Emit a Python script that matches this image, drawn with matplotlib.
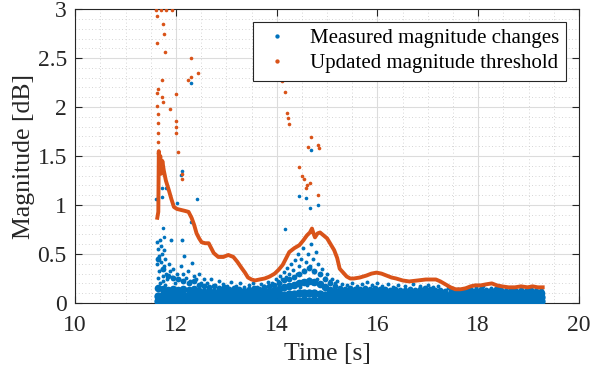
import matplotlib
matplotlib.use('Agg')
import matplotlib.pyplot as plt
from matplotlib.ticker import MultipleLocator

plt.rcParams['font.family'] = ['Liberation Serif', 'DejaVu Serif']
plt.rcParams['mathtext.fontset'] = 'stix'

BLUE = '#0072BD'
ORANGE = '#D95319'

# measured magnitude changes: dense band (three bottom rows + upper envelope) on a 0.1 s grid
band_t = [11.65, 11.75, 11.85, 11.95, 12.05, 12.15, 12.25, 12.35, 12.45, 12.55,
          12.65, 12.75, 12.85, 12.95, 13.05, 13.15, 13.25, 13.35, 13.45, 13.55,
          13.65, 13.75, 13.85, 13.95, 14.05, 14.15, 14.25, 14.35, 14.45, 14.55,
          14.65, 14.75, 14.85, 14.95, 15.05, 15.15, 15.25, 15.35, 15.45, 15.55,
          15.65, 15.75, 15.85, 15.95, 16.05, 16.15, 16.25, 16.35, 16.45, 16.55,
          16.65, 16.75, 16.85, 16.95, 17.05, 17.15, 17.25, 17.35, 17.45, 17.55,
          17.65, 17.75, 17.85, 17.95, 18.05, 18.15, 18.25, 18.35, 18.45, 18.55,
          18.65, 18.75, 18.85, 18.95, 19.05, 19.15, 19.25]
band_lo = [0.02, 0.03, 0.02, 0.03, 0.02, 0.03, 0.02, 0.03, 0.02, 0.03,
           0.02, 0.03, 0.02, 0.03, 0.02, 0.03, 0.02, 0.03, 0.02, 0.03,
           0.02, 0.03, 0.02, 0.03, 0.02, 0.03, 0.02, 0.03, 0.02, 0.03,
           0.02, 0.03, 0.02, 0.03, 0.02, 0.03, 0.02, 0.03, 0.02, 0.03,
           0.02, 0.03, 0.02, 0.03, 0.02, 0.03, 0.02, 0.03, 0.02, 0.03,
           0.02, 0.03, 0.02, 0.03, 0.02, 0.03, 0.02, 0.03, 0.02, 0.03,
           0.02, 0.03, 0.02, 0.03, 0.02, 0.03, 0.02, 0.03, 0.02, 0.03,
           0.02, 0.03, 0.02, 0.03, 0.02, 0.03, 0.02]
band_mid = [0.07, 0.08, 0.07, 0.08, 0.07, 0.08, 0.07, 0.08, 0.07, 0.08,
            0.07, 0.08, 0.07, 0.08, 0.07, 0.08, 0.07, 0.08, 0.07, 0.08,
            0.07, 0.08, 0.07, 0.08, 0.08, 0.08, 0.09, 0.09, 0.1, 0.1,
            0.1, 0.1, 0.09, 0.08, 0.08, 0.07, 0.08, 0.07, 0.08, 0.07,
            0.08, 0.07, 0.08, 0.07, 0.08, 0.07, 0.08, 0.07, 0.08, 0.07,
            0.08, 0.07, 0.08, 0.07, 0.07, 0.06, 0.07, 0.06, 0.07, 0.06,
            0.07, 0.06, 0.07, 0.06, 0.07, 0.06, 0.07, 0.06, 0.07, 0.06,
            0.07, 0.06, 0.07, 0.06, 0.07, 0.06, 0.06]
band_up = [0.15, 0.14, 0.13, 0.14, 0.13, 0.14, 0.13, 0.14, 0.12,
           0.11, 0.12, 0.11, 0.11, 0.12, 0.11, 0.11, 0.11, 0.11, 0.11,
           0.11, 0.11, 0.12, 0.12, 0.13,
           0.14, 0.16, 0.17, 0.18, 0.2, 0.21, 0.22, 0.21, 0.19, 0.16,
           0.13, 0.12, 0.11, 0.11, 0.11, 0.11, 0.11, 0.11, 0.11, 0.11,
           0.11, 0.11, 0.11, 0.11, 0.11, 0.11, 0.11, 0.11, 0.11, 0.11,
           0.1, 0.1, 0.1, 0.09, 0.09, 0.09, 0.1, 0.1, 0.1, 0.1,
           0.1, 0.1, 0.1, 0.1, 0.1, 0.1, 0.1, 0.1, 0.1, 0.1,
           0.1, 0.1, 0.1]
band_hi = [0.45, 0.35, 0.28, 0.26, 0.24, 0.22, 0.2, 0.22, 0.18, 0.17,
           0.16, 0.17, 0.15, 0.16, 0.14, 0.15, 0.14, 0.13, 0.14, 0.15,
           0.14, 0.16, 0.17, 0.18, 0.2, 0.23, 0.25, 0.27, 0.3, 0.33,
           0.36, 0.33, 0.3, 0.24, 0.2, 0.17, 0.15, 0.14, 0.15, 0.14,
           0.14, 0.15, 0.14, 0.15, 0.14, 0.14, 0.13, 0.14, 0.13, 0.13,
           0.14, 0.13, 0.14, 0.15, 0.14, 0.13, 0.13, 0.12, 0.12, 0.11,
           0.12, 0.12, 0.13, 0.13, 0.14, 0.13, 0.13, 0.14, 0.13, 0.12,
           0.13, 0.12, 0.13, 0.12, 0.13, 0.12, 0.12]

# measured magnitude changes: scattered spikes above the band
spike_t = [11.63, 11.64, 11.66, 11.63, 11.67, 11.65, 11.68, 11.70, 11.72, 11.71,
           11.73, 11.69, 11.75, 11.74, 11.66, 11.78, 11.77, 11.80, 11.82, 11.79,
           11.76, 11.90, 11.86, 11.88, 11.92, 11.95, 11.98, 12.02, 12.06, 12.10,
           12.12, 12.14, 12.16, 12.20, 12.24, 12.28, 12.31, 12.35, 12.40, 12.46,
           12.50, 12.55, 12.62, 12.70, 12.78, 12.86, 12.94, 13.02, 13.10, 13.20,
           13.28, 13.36, 13.45, 13.52, 13.60, 13.68, 13.75, 13.82, 13.90, 13.98,
           14.02, 14.06, 14.10, 14.14, 14.18, 14.20, 14.24, 14.28, 14.30, 14.32,
           14.36, 14.38, 14.40, 14.42, 14.44, 14.46, 14.48, 14.50, 14.52, 14.55,
           14.58, 14.60, 14.62, 14.64, 14.66, 14.68, 14.70, 14.72, 14.75, 14.78,
           14.80, 14.82, 14.85, 14.88, 14.90, 14.95, 15.00, 15.05, 15.10, 15.15,
           15.20, 15.30, 15.40, 15.50, 15.60, 15.70, 15.80, 15.90, 16.00, 16.10,
           16.20, 16.30, 16.40, 16.55, 16.70, 16.85, 17.00, 17.10, 17.20, 17.40,
           17.60, 17.80, 17.95, 18.10, 18.25, 18.40, 18.55, 18.70, 18.85, 19.00,
           19.15, 19.25]
spike_v = [0.62, 0.55, 0.48, 0.40, 0.33, 0.26, 0.20, 0.58, 0.50, 0.42,
           0.35, 0.64, 0.28, 0.22, 0.16, 0.45, 0.38, 0.30, 0.24, 0.18,
           0.54, 0.64, 0.40, 0.33, 0.27, 0.35, 0.20, 0.30, 0.24, 0.38,
           0.64, 0.30, 0.48, 0.26, 0.33, 0.22, 0.41, 0.28, 0.24, 0.30,
           0.20, 0.25, 0.20, 0.24, 0.18, 0.22, 0.19, 0.17, 0.21, 0.17,
           0.20, 0.16, 0.18, 0.20, 0.16, 0.19, 0.17, 0.21, 0.20, 0.24,
           0.22, 0.28, 0.25, 0.32, 0.27, 0.36, 0.30, 0.40, 0.18, 0.34,
           0.44, 0.20, 0.30, 0.50, 0.38, 0.16, 0.45, 0.22, 0.56, 0.34,
           0.42, 0.18, 0.50, 0.25, 0.38, 0.60, 0.20, 0.45, 0.32, 0.52,
           0.24, 0.40, 0.30, 0.20, 0.35, 0.26, 0.30, 0.22, 0.25, 0.20,
           0.22, 0.19, 0.18, 0.20, 0.17, 0.19, 0.21, 0.18, 0.20, 0.17,
           0.19, 0.16, 0.18, 0.17, 0.19, 0.17, 0.18, 0.16, 0.17, 0.15,
           0.14, 0.15, 0.16, 0.17, 0.15, 0.16, 0.14, 0.15, 0.14, 0.15,
           0.14, 0.13]

# measured magnitude changes: isolated large values
big_t = [12.29, 12.12, 12.10, 11.61, 11.73, 11.80, 11.73, 12.41, 12.02, 11.75,
         11.76, 12.29, 14.69, 14.45, 14.59, 14.67, 14.82, 14.16]
big_v = [2.25, 1.35, 1.31, 1.06, 1.17, 1.17, 1.08, 1.06, 1.02, 0.77,
         0.67, 0.83, 1.56, 1.09, 1.07, 0.97, 1.00, 0.76]

# updated magnitude threshold (main track)
thr_t = [11.63, 11.65, 11.66, 11.67, 11.69, 11.71, 11.73, 11.76, 11.80, 11.86,
         11.91, 11.96, 12.02, 12.10, 12.18, 12.25, 12.31, 12.36, 12.41, 12.46,
         12.51, 12.58, 12.65, 12.70, 12.75, 12.84, 12.94, 13.04, 13.14, 13.22,
         13.30, 13.37, 13.43, 13.50, 13.57, 13.66, 13.76, 13.86, 13.96, 14.04,
         14.12, 14.19, 14.25, 14.35, 14.45, 14.53, 14.60, 14.66, 14.70, 14.73,
         14.76, 14.81, 14.86, 14.93, 15.00, 15.07, 15.14, 15.20, 15.25, 15.32,
         15.39, 15.46, 15.53, 15.65, 15.78, 15.88, 15.98, 16.08, 16.18, 16.28,
         16.37, 16.50, 16.63, 16.80, 16.96, 17.06, 17.16, 17.25, 17.35, 17.45,
         17.55, 17.65, 17.75, 17.85, 17.94, 18.05, 18.15, 18.27, 18.37, 18.47,
         18.60, 18.73, 18.85, 18.98, 19.08, 19.18, 19.28]
thr_v = [0.87, 0.93, 1.55, 1.42, 1.50, 1.32, 1.45, 1.35, 1.25, 1.15,
         1.06, 0.98, 0.96, 0.95, 0.94, 0.93, 0.87, 0.80, 0.71, 0.66,
         0.62, 0.61, 0.61, 0.56, 0.51, 0.47, 0.47, 0.49, 0.47, 0.42,
         0.36, 0.31, 0.26, 0.24, 0.23, 0.24, 0.25, 0.27, 0.30, 0.34,
         0.39, 0.46, 0.52, 0.56, 0.59, 0.64, 0.69, 0.72, 0.76, 0.71,
         0.67, 0.71, 0.72, 0.69, 0.66, 0.60, 0.54, 0.46, 0.35, 0.31,
         0.27, 0.25, 0.25, 0.26, 0.28, 0.30, 0.31, 0.30, 0.28, 0.26,
         0.25, 0.23, 0.22, 0.23, 0.24, 0.24, 0.24, 0.22, 0.19, 0.16,
         0.14, 0.14, 0.15, 0.17, 0.18, 0.18, 0.19, 0.20, 0.18, 0.17,
         0.16, 0.16, 0.17, 0.16, 0.17, 0.16, 0.16]

# updated magnitude threshold (scattered early values)
thr_out_t = [11.60, 11.70, 11.80, 11.92, 11.63, 11.75, 11.76, 11.63, 11.78, 12.29,
             12.43, 12.30, 12.24, 11.73, 11.65, 11.63, 11.73, 11.74, 11.63, 11.88,
             12.00, 11.65, 12.00, 12.00, 12.00, 11.65, 11.65, 11.65, 11.65, 12.04,
             12.12, 12.12, 14.10, 14.16, 14.20, 14.22, 14.25, 14.69, 14.63, 14.82,
             14.83, 14.45, 14.51, 14.55, 14.61, 14.67, 14.59, 14.82]
thr_out_v = [2.99, 2.99, 2.99, 2.99, 2.93, 2.85, 2.75, 2.65, 2.56, 2.50,
             2.35, 2.31, 2.28, 2.28, 2.18, 2.14, 2.10, 2.05, 2.01, 1.98,
             2.13, 1.93, 1.86, 1.80, 1.74, 1.84, 1.74, 1.64, 1.53, 1.54,
             1.32, 1.27, 2.27, 2.15, 1.94, 1.89, 1.83, 1.69, 1.59, 1.61,
             1.58, 1.39, 1.30, 1.27, 1.20, 1.22, 1.17, 1.10]

fig = plt.figure(figsize=(5.92, 3.72), dpi=100)
ax = fig.add_axes([0.127, 0.1855, 0.851, 0.790])

ax.plot(band_t, band_lo, 'o', color=BLUE, ms=6.0, mec='none', zorder=3)
ax.plot(band_t, band_mid, 'o', color=BLUE, ms=6.0, mec='none', zorder=3)
ax.plot(band_t, band_up, 'o', color=BLUE, ms=5.5, mec='none', zorder=3)
ax.plot(band_t, band_hi, 'o', color=BLUE, ms=4.2, mec='none', zorder=3)
ax.plot(spike_t, spike_v, 'o', color=BLUE, ms=2.8, mec='none', zorder=3)
ax.plot(big_t, big_v, 'o', color=BLUE, ms=2.6, mec='none', zorder=3,
        label='Measured magnitude changes')

ax.plot(thr_t, thr_v, '-', color=ORANGE, lw=2.8, zorder=4)
ax.plot(thr_out_t, thr_out_v, 'o', color=ORANGE, ms=2.6, mec='none', zorder=4,
        label='Updated magnitude threshold')

ax.set_xlim(10, 20)
ax.set_ylim(0, 3)
ax.set_xticks([10, 12, 14, 16, 18, 20])
ax.set_yticks([0, 0.5, 1, 1.5, 2, 2.5, 3])
ax.set_yticklabels(['0', '0.5', '1', '1.5', '2', '2.5', '3'])
ax.xaxis.set_minor_locator(MultipleLocator(0.5))
ax.yaxis.set_minor_locator(MultipleLocator(0.1))

ax.grid(True, which='major', color='#dcdcdc', lw=0.8, ls='-')
ax.grid(True, which='minor', color='#c8c8c8', lw=0.6, ls=(0, (1, 3)))
ax.set_axisbelow(True)

ax.tick_params(which='both', direction='in', top=True, right=True,
               labelsize=17, colors='#262626')
ax.tick_params(which='major', length=5, width=0.8)
ax.tick_params(axis='x', which='major', pad=9)
ax.tick_params(axis='y', which='major', pad=6)
ax.tick_params(which='minor', length=0)
for s in ax.spines.values():
    s.set_color('#262626')
    s.set_linewidth(0.8)

ax.set_xlabel('Time [s]', fontsize=18.5, color='#262626', labelpad=5)
ax.set_ylabel('Magnitude [dB]', fontsize=18.5, color='#262626', labelpad=2)

leg = ax.legend(loc='upper right', fontsize=15, frameon=True, fancybox=False,
                edgecolor='#262626', framealpha=1, markerscale=1.2,
                handlelength=1.6, borderaxespad=0.6, labelspacing=0.25,
                borderpad=0.35, handletextpad=0.8)
leg.get_frame().set_linewidth(0.8)

fig.savefig('out.png', dpi=100)
